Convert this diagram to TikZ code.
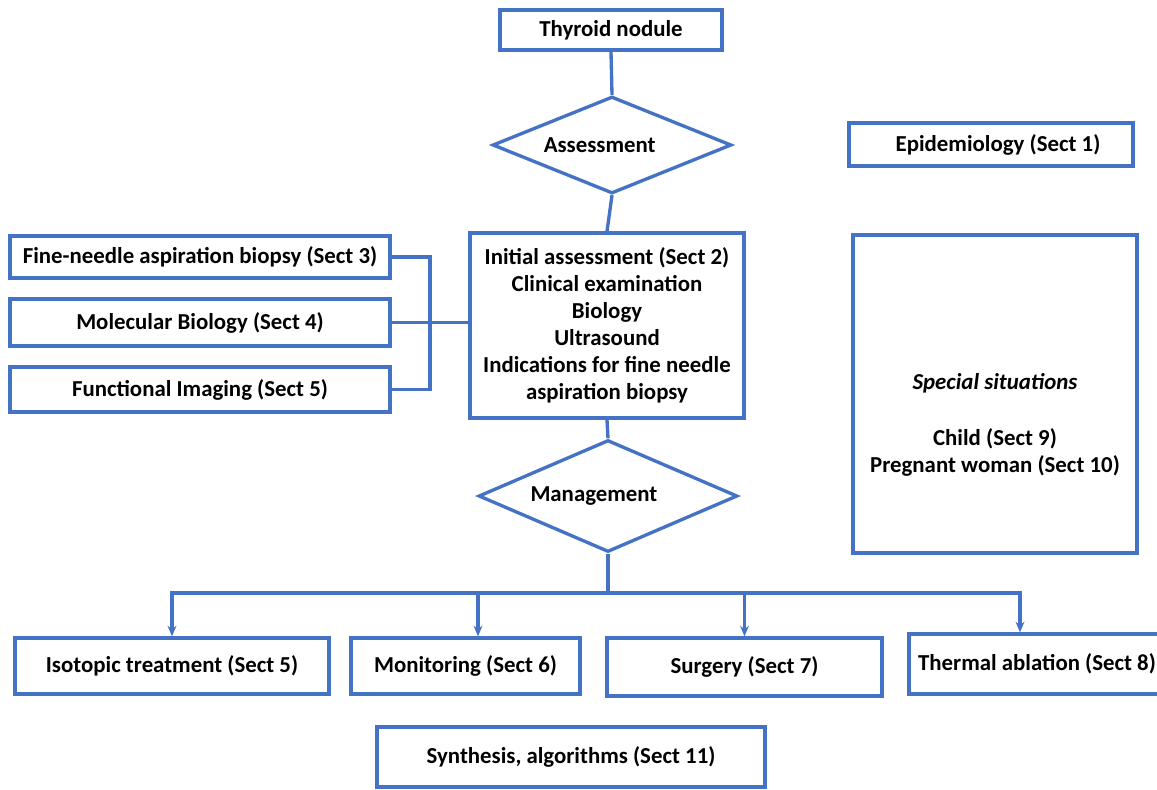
\documentclass[tikz,border=0pt]{standalone}
\usepackage{fontspec}
\setmainfont{Carlito}
\usetikzlibrary{arrows.meta,shapes.geometric,positioning,calc}
\definecolor{boxblue}{RGB}{68,114,196}

\begin{document}
\begin{tikzpicture}[x=0.02cm, y=-0.02cm,
    box/.style={draw=boxblue, line width=1.9pt, fill=white, inner sep=0pt, align=center,
        font=\fontsize{13}{15.3}\selectfont\bfseries},
    choice/.style={box, diamond},
    link/.style={draw=boxblue, line width=1.9pt},
    arrow/.style={link, -{Stealth[length=6pt, width=5pt]}}]
    \useasboundingbox (0,0) rectangle (1157,789);

    % Main column
    \node[box, minimum width=4.44cm, minimum height=0.8cm] (nodule) at (611,30) {Thyroid nodule};
    \node[choice, aspect=2.46, minimum width=4.78cm, minimum height=1.94cm] (assess) at (612,145) {Assessment\hspace*{14pt}};
    \node[box, minimum width=5.48cm, minimum height=3.7cm] (initial) at (607,325.5)
        {Initial assessment (Sect 2)\\Clinical examination\\Biology\\Ultrasound\\Indications for fine needle\\aspiration biopsy};
    \node[choice, aspect=2.31, minimum width=5.18cm, minimum height=2.24cm] (manage) at (608,496) {Management\hspace*{16pt}};

    % Left column
    \node[box, minimum width=7.6cm, minimum height=0.84cm] (fna) at (200,257) {Fine-needle aspiration biopsy (Sect 3)};
    \node[box, minimum width=7.6cm, minimum height=0.94cm] (molec) at (200,322.5) {Molecular Biology (Sect 4)};
    \node[box, minimum width=7.6cm, minimum height=0.9cm] (funct) at (200,389.5) {Functional Imaging (Sect 5)};

    % Right column
    \node[box, minimum width=5.68cm, minimum height=0.86cm] (epidem) at (991,144.5) {\hspace*{8pt}Epidemiology (Sect 1)};
    \node[box, minimum width=5.68cm, minimum height=6.36cm] (special) at (995,394)
        {\mbox{}\\[29pt]\textit{Special situations}\\[17pt]Child (Sect 9)\\Pregnant woman (Sect 10)};

    % Treatments
    \node[box, minimum width=6.28cm, minimum height=1.12cm] (isotop) at (172,666) {Isotopic treatment (Sect 5)};
    \node[box, minimum width=4.58cm, minimum height=1.12cm] (monitor) at (465.5,666) {Monitoring (Sect 6)};
    \node[box, minimum width=5.5cm, minimum height=1.16cm] (surgery) at (744.5,667) {Surgery (Sect 7)};
    \node[box, minimum width=5.12cm, minimum height=1.2cm] (thermal) at (1037,664) {Thermal ablation (Sect 8)};
    \node[box, minimum width=7.76cm, minimum height=1.2cm] (synth) at (571,757) {Synthesis, algorithms (Sect 11)};

    % Connectors
    \draw[link] (nodule.south) -- (assess.north);
    \draw[link] (assess.south) -- (initial.north);
    \coordinate (bus) at (430,322.5);
    \draw[link] (fna.east) -| (bus) |- (funct.east);
    \draw[link] (molec.east) -- (initial.west |- molec.east);
    \draw[link] (initial.south) -- (manage.north);
    \coordinate (split) at (608,593);
    \draw[link] (manage.south) -- (split);
    \draw[arrow] (split) -| (isotop.north);
    \draw[arrow] (split) -| (monitor.north -| 478,0);
    \draw[arrow] (split) -| (surgery.north);
    \draw[arrow] (split) -| (thermal.north -| 1020,0);
\end{tikzpicture}
\end{document}
